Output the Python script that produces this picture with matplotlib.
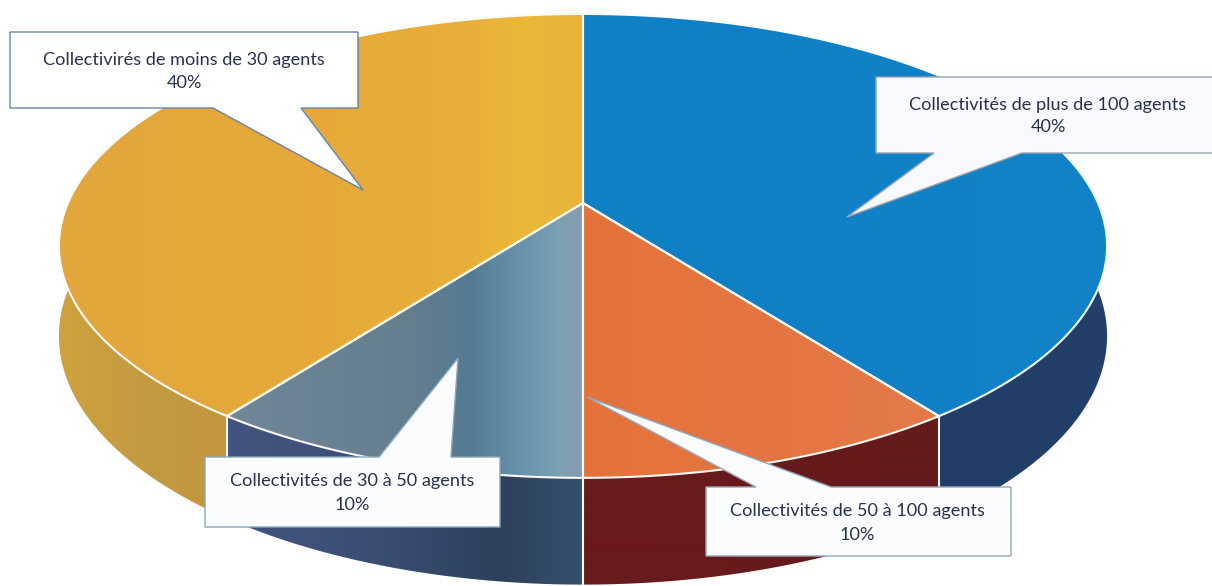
import numpy as np
import matplotlib
matplotlib.use("Agg")
import matplotlib.pyplot as plt
from matplotlib.colors import to_rgb
from matplotlib.patches import Polygon

# Shares, clockwise from twelve o'clock
categories = ["Collectivités de plus de 100 agents",
              "Collectivités de 50 à 100 agents",
              "Collectivités de 30 à 50 agents",
              "Collectivirés de moins de 30 agents"]
shares = [40, 10, 10, 40]

# Horizontal colour ramps: (pixel x, colour) for the top face and the wall of each slice
top_ramps = [
    [(583, "#0F7FC6"), (1110, "#1283C8")],
    [(583, "#E4723A"), (940, "#E5794A")],
    [(230, "#6F8796"), (400, "#667F8E"), (470, "#557A94"), (520, "#6693AC"),
     (560, "#7BA0B4"), (583, "#879DAD")],
    [(60, "#E3A63C"), (300, "#E6A93A"), (460, "#E8AE38"), (530, "#EBB839"), (583, "#E8B23B")],
]
wall_ramps = [
    [(583, "#1F3B66"), (1110, "#22406A")],
    [(583, "#6A1A1C"), (940, "#651A1C")],
    [(230, "#415580"), (380, "#3A4E74"), (500, "#2D405C"), (583, "#34506F")],
    [(60, "#CFA23E"), (150, "#C39A42"), (230, "#C2963C")],
]

# Callouts: box (left, top, right, bottom), tail root on the box edge, tail tip
callouts = [
    dict(box=(876, 77, 1216, 153), root=(934, 1022), tip=(847, 217), edge="#9AA3B0",
         face="#F8F9FC", text=(1048, 105), pct=(1048, 127)),
    dict(box=(706, 487, 1011, 556), root=(756, 831), tip=(587, 397), edge="#97A6BC",
         face="#FBFCFD", text=(857, 511), pct=(857, 535)),
    dict(box=(205, 457, 500, 527), root=(379, 451), tip=(458, 358), edge="#8AA5BC",
         face="#FBFCFD", text=(352, 481), pct=(352, 505)),
    dict(box=(10, 32, 358, 108), root=(213, 301), tip=(363, 190), edge="#6783AA",
         face="#FFFFFF", text=(184, 60), pct=(184, 83)),
]

W, H = 1212, 586
CX, CY = 583, 203          # apex of the pie on the page
RX, RY = 515, 224          # radial scale of the disc
PERSP = 0.185              # foreshortening towards the back
DEPTH = 87                 # wall height at the disc's mid line


def rim(theta_deg, drop=0.0):
    """Project a point of the disc's rim, theta clockwise from the top."""
    t = np.radians(theta_deg)
    u, v = np.sin(t), np.cos(t)
    s = 1.0 / (1.0 + PERSP * v)
    return np.column_stack([CX + RX * u * s, CY - RY * v * s + drop * s])


def ramp_image(stops):
    xs = [p for p, _ in stops]
    cols = np.array([to_rgb(c) for _, c in stops])
    grid = np.arange(W)
    return np.stack([np.interp(grid, xs, cols[:, i]) for i in range(3)], axis=1)[None, :, :]


def fill_ramped(ax, vertices, stops, zorder):
    patch = Polygon(vertices, closed=True, facecolor="none", edgecolor="none",
                    transform=ax.transData, zorder=zorder)
    ax.add_patch(patch)
    im = ax.imshow(ramp_image(stops), extent=(0, W, H, 0), aspect="auto",
                   interpolation="bilinear", zorder=zorder)
    im.set_clip_path(patch)


plt.rcParams["font.family"] = ["Lato", "DejaVu Sans"]
fig = plt.figure(figsize=(W / 100, H / 100), dpi=100, facecolor="white")
ax = fig.add_axes([0, 0, 1, 1])

edges = np.concatenate([[0], np.cumsum(shares)]) / sum(shares) * 360.0

# Walls first, so the top faces cover their hidden rear part
for i in range(len(shares)):
    th = np.linspace(edges[i], edges[i + 1], 240)
    upper, lower = rim(th), rim(th, DEPTH)
    fill_ramped(ax, np.vstack([upper, lower[::-1]]), wall_ramps[i], 1)

# White seams between the wall sections at the front
for angle in edges[1:-1]:
    a = rim(angle)[0]
    b = rim(angle, DEPTH)[0]
    ax.plot([a[0], b[0]], [a[1], b[1]], color="#F4F6F8", lw=1.5, zorder=2)

# Top faces with their white outlines
for i in range(len(shares)):
    th = np.linspace(edges[i], edges[i + 1], 240)
    verts = np.vstack([[(CX, CY)], rim(th)])
    fill_ramped(ax, verts, top_ramps[i], 3)
    ax.add_patch(Polygon(verts, closed=True, facecolor="none", edgecolor="#FBFBF6",
                         lw=1.5, zorder=4))

# Callouts sit on top of the pie; the tail leaves the edge facing its tip
for label, share, c in zip(categories, shares, callouts):
    left, top, right, bottom = c["box"]
    r0, r1 = c["root"]
    if c["tip"][1] > bottom:
        outline = [(left, top), (right, top), (right, bottom), (r1, bottom),
                   c["tip"], (r0, bottom), (left, bottom)]
    else:
        outline = [(left, top), (r0, top), c["tip"], (r1, top), (right, top),
                   (right, bottom), (left, bottom)]
    ax.add_patch(Polygon(outline, closed=True, facecolor=c["face"], edgecolor=c["edge"],
                         lw=1.0, zorder=5, joinstyle="miter"))
    ax.text(*c["text"], label, ha="center", va="center", fontsize=13.1,
            color="#27324F", zorder=6)
    ax.text(*c["pct"], f"{share}%", ha="center", va="center", fontsize=13.1,
            color="#27324F", zorder=6)

ax.set_xlim(0, W)
ax.set_ylim(H, 0)
ax.axis("off")
fig.savefig("out.png", dpi=100, facecolor="white")
